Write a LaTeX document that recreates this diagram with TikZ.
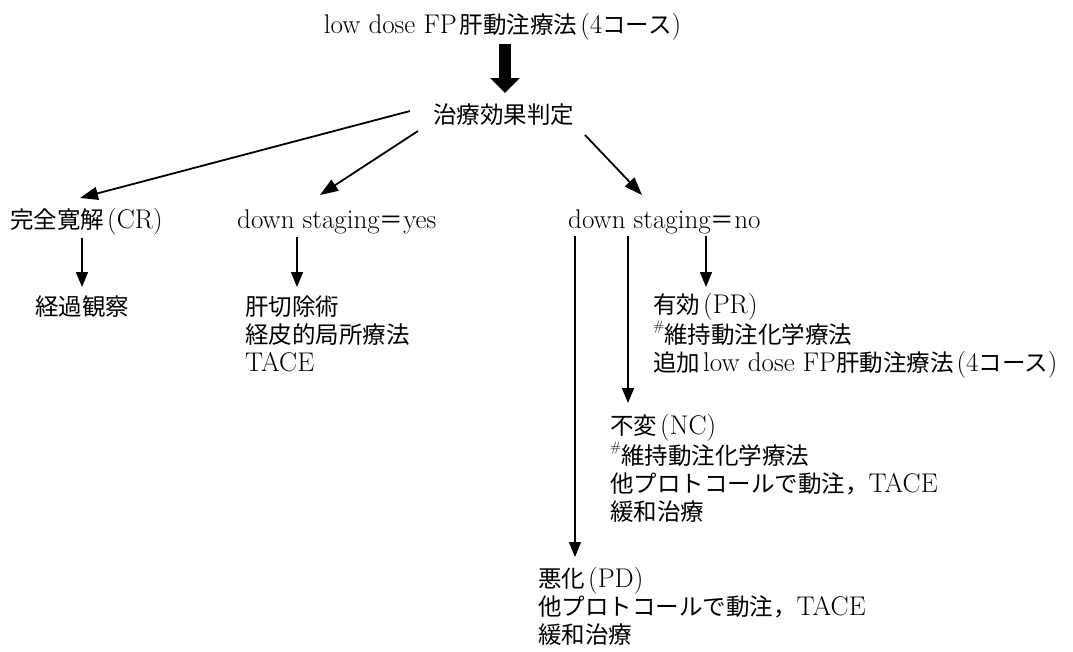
\documentclass[tikz,border=0pt]{standalone}
\usepackage{fontspec}
\setmainfont{Latin Modern Roman}[Scale=1.15]
\newfontfamily\jp{Noto Sans CJK JP}
\usetikzlibrary{arrows.meta}
\newcommand\J[1]{{\jp #1}}
\newcommand\g{\hspace{3pt}}
\newcommand\hs{\raisebox{0.45em}{\fontsize{12}{12}\selectfont\#}}
\begin{document}
\begin{tikzpicture}[x=1pt,y=1pt,
  lbl/.style={inner sep=0pt, font=\fontsize{23.5}{28}\selectfont, anchor=base west, align=left},
  arr/.style={line width=1.5pt, -{Triangle[length=15pt,width=12pt]}},
  darr/.style={line width=1.8pt, -{Triangle[length=18pt,width=13pt]}},
  big/.style={line width=12pt, -{Triangle[length=15pt,width=29pt]}}]
\useasboundingbox[fill=white] (0,0) rectangle (1073,-651);

% single-line labels: anchor at baseline; multi-line labels: anchor at baseline of last line
\node[lbl, anchor=base] (title) at (502.5,-33) {low dose FP\g\J{肝動注療法}\g(4\J{コース})};
\node[lbl, anchor=base] (judge) at (503.5,-123) {\J{治療効果判定}};
\node[lbl] (cr) at (10,-228) {\J{完全寛解}\g(CR)};
\node[lbl] (yes) at (237,-228) {down staging\J{＝}yes};
\node[lbl] (no) at (568,-228) {down staging\J{＝}no};
\node[lbl] (obs) at (35,-315) {\J{経過観察}};
\node[lbl] (yesb) at (245,-371) {\J{肝切除術}\\\J{経皮的局所療法}\\TACE};
\node[lbl] (pr) at (653,-371) {\J{有効}\g(PR)\\\hs\J{維持動注化学療法}\\\J{追加}\g low dose FP\J{肝動注療法}\g(4\J{コース})};
\node[lbl] (nc) at (610,-520) {\J{不変}\g(NC)\\\hs\J{維持動注化学療法}\\\J{他プロトコールで動注，}TACE\\\J{緩和治療}};
\node[lbl] (pd) at (538,-643) {\J{悪化}\g(PD)\\\J{他プロトコールで動注，}TACE\\\J{緩和治療}};

% thick arrow
\coordinate (bT) at (505,-93);
\draw[big, shorten <=4pt] (title.south -| bT) -- (bT);

% diagonal arrows
\coordinate (d1s) at (410,-111); \coordinate (d1e) at (80,-198);
\coordinate (d2s) at (418,-131); \coordinate (d2e) at (320,-195);
\coordinate (d3s) at (585,-135); \coordinate (d3e) at (642,-195);
\draw[darr] (d1s) -- (d1e);
\draw[darr] (d2s) -- (d2e);
\draw[darr] (d3s) -- (d3e);

% vertical arrows
\coordinate (crT) at (82,-287);
\coordinate (yesT) at (297,-287);
\coordinate (pdT) at (575,-557);
\coordinate (ncT) at (628,-403);
\coordinate (prT) at (706,-287);
\draw[arr, shorten <=3pt] (cr.south -| crT) -- (crT);
\draw[arr, shorten <=3pt] (yes.south -| yesT) -- (yesT);
\draw[arr, shorten <=2pt] (no.south -| pdT) -- (pdT);
\draw[arr, shorten <=2pt] (no.south -| ncT) -- (ncT);
\draw[arr, shorten <=2pt] (no.south -| prT) -- (prT);
\end{tikzpicture}
\end{document}
